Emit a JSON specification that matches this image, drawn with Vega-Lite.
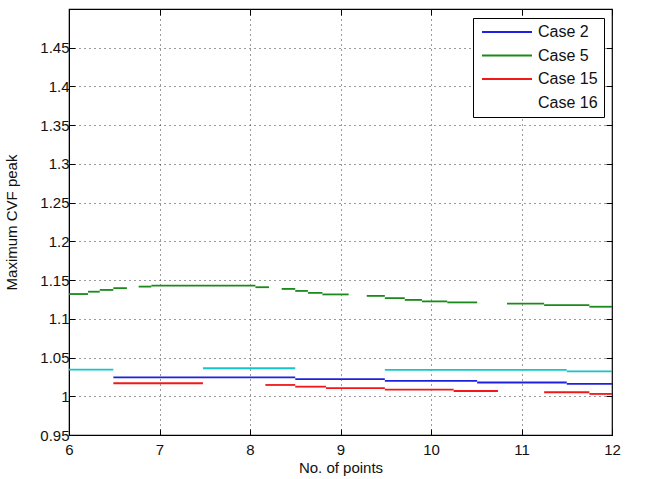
{
  "$schema": "https://vega.github.io/schema/vega-lite/v6.json",
  "width": 543,
  "height": 426,
  "autosize": {"type": "none"},
  "padding": {"left": 69, "top": 9, "right": 46, "bottom": 44},
  "background": "white",
  "config": {
    "font": "Liberation Sans",
    "view": {"stroke": "black", "strokeWidth": 1.2},
    "axis": {
      "labelFont": "Liberation Sans",
      "titleFont": "Liberation Sans",
      "labelFontSize": 15,
      "titleFontSize": 15,
      "titleFontWeight": "normal",
      "labelColor": "#111",
      "titleColor": "#111",
      "domainColor": "black",
      "tickColor": "black",
      "gridColor": "#222",
      "gridDash": [1, 4],
      "gridWidth": 1,
      "gridOpacity": 0.9
    }
  },
  "data": {
    "values": [
      {"series": "Case 5", "x": 6.00, "x2": 6.21, "y": 1.1320},
      {"series": "Case 5", "x": 6.21, "x2": 6.34, "y": 1.1350},
      {"series": "Case 5", "x": 6.34, "x2": 6.49, "y": 1.1373},
      {"series": "Case 5", "x": 6.49, "x2": 6.64, "y": 1.1396},
      {"series": "Case 5", "x": 6.77, "x2": 6.91, "y": 1.1416},
      {"series": "Case 5", "x": 6.91, "x2": 8.06, "y": 1.1429},
      {"series": "Case 5", "x": 8.06, "x2": 8.21, "y": 1.1408},
      {"series": "Case 5", "x": 8.35, "x2": 8.50, "y": 1.1386},
      {"series": "Case 5", "x": 8.50, "x2": 8.64, "y": 1.1360},
      {"series": "Case 5", "x": 8.64, "x2": 8.80, "y": 1.1335},
      {"series": "Case 5", "x": 8.80, "x2": 9.09, "y": 1.1315},
      {"series": "Case 5", "x": 9.29, "x2": 9.49, "y": 1.1296},
      {"series": "Case 5", "x": 9.49, "x2": 9.71, "y": 1.1267},
      {"series": "Case 5", "x": 9.71, "x2": 9.90, "y": 1.1244},
      {"series": "Case 5", "x": 9.90, "x2": 10.18, "y": 1.1225},
      {"series": "Case 5", "x": 10.18, "x2": 10.51, "y": 1.1212},
      {"series": "Case 5", "x": 10.84, "x2": 11.25, "y": 1.1196},
      {"series": "Case 5", "x": 11.25, "x2": 11.75, "y": 1.1178},
      {"series": "Case 5", "x": 11.75, "x2": 12.00, "y": 1.1156},
      {"series": "Case 16", "x": 6.00, "x2": 6.49, "y": 1.0344},
      {"series": "Case 16", "x": 7.48, "x2": 8.50, "y": 1.0362},
      {"series": "Case 16", "x": 9.49, "x2": 11.50, "y": 1.0342},
      {"series": "Case 16", "x": 11.50, "x2": 12.00, "y": 1.0322},
      {"series": "Case 2", "x": 6.49, "x2": 8.50, "y": 1.0245},
      {"series": "Case 2", "x": 8.50, "x2": 9.49, "y": 1.0222},
      {"series": "Case 2", "x": 9.49, "x2": 10.51, "y": 1.0200},
      {"series": "Case 2", "x": 10.51, "x2": 11.50, "y": 1.0178},
      {"series": "Case 2", "x": 11.50, "x2": 12.00, "y": 1.0160},
      {"series": "Case 15", "x": 6.49, "x2": 7.48, "y": 1.0168},
      {"series": "Case 15", "x": 8.17, "x2": 8.50, "y": 1.0146},
      {"series": "Case 15", "x": 8.50, "x2": 8.84, "y": 1.0124},
      {"series": "Case 15", "x": 8.84, "x2": 9.49, "y": 1.0105},
      {"series": "Case 15", "x": 9.49, "x2": 10.25, "y": 1.0086},
      {"series": "Case 15", "x": 10.25, "x2": 10.74, "y": 1.0068},
      {"series": "Case 15", "x": 11.25, "x2": 11.75, "y": 1.0052},
      {"series": "Case 15", "x": 11.75, "x2": 12.00, "y": 1.0030}
    ]
  },
  "layer": [
    {
      "mark": {"type": "rule", "strokeWidth": 1.8},
      "encoding": {
        "x": {
          "field": "x", "type": "quantitative",
          "scale": {"domain": [6, 12], "nice": false, "zero": false},
          "axis": {
            "title": "No. of points",
            "values": [6, 7, 8, 9, 10, 11, 12],
            "format": "d",
            "tickSize": -6,
            "labelPadding": 13,
            "titlePadding": 3,
            "domain": true,
            "grid": true,
            "labelFlush": false
          }
        },
        "x2": {"field": "x2"},
        "y": {
          "field": "y", "type": "quantitative",
          "scale": {"domain": [0.95, 1.5], "nice": false, "zero": false},
          "axis": {
            "title": "Maximum CVF peak",
            "values": [0.95, 1, 1.05, 1.1, 1.15, 1.2, 1.25, 1.3, 1.35, 1.4, 1.45],
            "format": ".2~f",
            "tickSize": -6,
            "labelPadding": 6,
            "titlePadding": 20,
            "grid": true,
            "labelFlush": false
          }
        },
        "color": {
          "field": "series", "type": "nominal",
          "scale": {
            "domain": ["Case 2", "Case 5", "Case 15", "Case 16"],
            "range": ["#2020e0", "#1a8a1a", "#f01818", "#10c8c8"]
          },
          "legend": {
            "title": null,
            "orient": "none",
            "legendX": 404,
            "legendY": 9,
            "symbolType": "M-1,0H9",
            "symbolSize": 100,
            "symbolStrokeWidth": 1.8,
            "labelFontSize": 16,
            "labelFont": "Liberation Sans",
            "labelColor": "#111",
            "labelOffset": 43,
            "rowPadding": 7.5,
            "padding": 6,
            "fillColor": "white",
            "strokeColor": "black",
            "encode": {
              "symbols": {"update": {"strokeOpacity": {"signal": "datum.label === 'Case 16' ? 0 : 1"}}}
            }
          }
        }
      }
    },
    {
      "mark": {"type": "rule", "opacity": 0},
      "encoding": {
        "x": {
          "field": "x", "type": "quantitative",
          "axis": {"orient": "top", "values": [6, 7, 8, 9, 10, 11, 12], "labels": false, "title": null, "tickSize": -6, "grid": false, "domain": false}
        },
        "x2": {"field": "x2"},
        "y": {
          "field": "y", "type": "quantitative",
          "axis": {"orient": "right", "values": [0.95, 1, 1.05, 1.1, 1.15, 1.2, 1.25, 1.3, 1.35, 1.4, 1.45], "labels": false, "title": null, "tickSize": -6, "grid": false, "domain": false}
        }
      }
    }
  ],
  "resolve": {"axis": {"x": "independent", "y": "independent"}}
}
